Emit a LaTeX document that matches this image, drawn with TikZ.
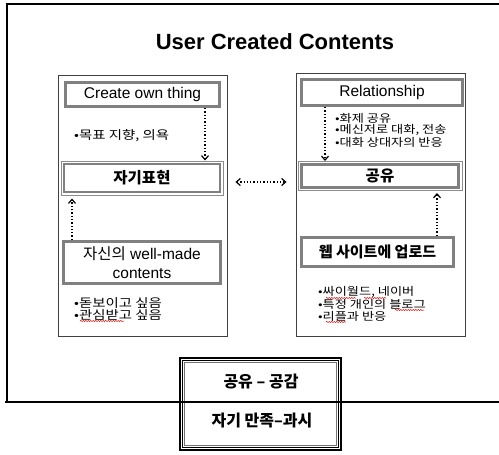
\documentclass[tikz,border=0pt]{standalone}
\usepackage{fontspec}
\setmainfont{Liberation Sans}
\newfontfamily\kr{Noto Sans CJK KR}
\newfontfamily\krw[FakeStretch=1.2]{Noto Sans CJK KR}
\usetikzlibrary{arrows.meta,calc,decorations.pathmorphing}
\begin{document}
\begin{tikzpicture}[x=1pt,y=-1pt,
  panel/.style={draw=black!75,line width=0.9pt,fill=white,inner sep=0pt},
  gbox/.style={draw=black!50,line width=3pt,fill=white,inner sep=0pt,align=center,font=\fontsize{15.5}{18}\selectfont},
  obox/.style={draw=black!45,line width=1pt,fill=white,inner sep=0pt,align=center,font=\fontsize{15.5}{17}\selectfont\kr\bfseries},
  bul/.style={anchor=west,inner sep=0pt,align=left,font=\fontsize{11}{12}\selectfont\krw},
  arr/.style={dotted,line width=1.3pt,-{Straight Barb[length=4pt,width=7pt,line width=1.2pt]}},
  darr/.style={dotted,line width=1.3pt,{Straight Barb[length=4pt,width=7pt,line width=1.2pt]}-{Straight Barb[length=4pt,width=7pt,line width=1.2pt]}},
  squig/.style={draw=red!85!black,line width=0.5pt,decorate,decoration={snake,amplitude=0.6pt,segment length=2.5pt}},
  frame/.style={line width=2.6pt,black}
]
\useasboundingbox[fill=white] (0,0) rectangle (499,455);

% outer frame (top and left)
\draw[frame] (499,4) -- (7,4) -- (7,402);

% title
\node[font=\fontsize{22}{24}\selectfont\bfseries] (title) at (275,42) {User Created Contents};

% panels
\node[panel,minimum width=169pt,minimum height=261pt] (lp) at (142.5,205.5) {};
\node[panel,minimum width=169pt,minimum height=263pt] (rp) at (380.5,204.5) {};

% left panel boxes
\node[gbox,minimum width=154pt,minimum height=24pt] (create) at (142.5,94.5) {Create own thing};
\node[obox,minimum width=162pt,minimum height=34pt] (self) at (142,178) {자기표현};
\draw[draw=black!50,line width=2.6pt] ([shift={(3.5,3.5)}]self.north west) rectangle ([shift={(-3.5,-3.5)}]self.south east);
\node[gbox,minimum width=157pt,minimum height=42pt,font=\fontsize{15.5}{19}\selectfont] (well) at (142,262.5) {{\kr 자신의} well-made\\contents};

\node[bul,font=\fontsize{12}{12}\selectfont\krw] (b1) at (74,136) {•목표 지향, 의욕};
\node[bul,font=\fontsize{12}{12}\selectfont\krw] (b2) at (74,303) {•돋보이고 싶음};
\node[bul,font=\fontsize{12}{12}\selectfont\krw] (b3) at (74,315) {•관심받고 싶음};

% right panel boxes
\node[gbox,minimum width=161pt,minimum height=26pt] (rel) at (382,92.5) {Relationship};
\node[obox,minimum width=164pt,minimum height=29pt] (share) at (380,176) {공유};
\draw[draw=black!50,line width=2.6pt] ([shift={(4,3.5)}]share.north west) rectangle ([shift={(-4,-3.5)}]share.south east);
\node[gbox,minimum width=152pt,minimum height=29pt,font=\fontsize{15}{17}\selectfont\kr\bfseries] (web) at (377.5,252) {웹 사이트에 업로드};

\node[bul] (r1) at (335,118) {•화제 공유};
\node[bul] (r2) at (335,130) {•메신저로 대화, 전송};
\node[bul] (r3) at (335,142) {•대화 상대자의 반응};

\node[bul] (r4) at (318,292) {•싸이월드, 네이버};
\node[bul] (r5) at (318,304) {•특정 개인의 블로그};
\node[bul] (r6) at (318,316) {•리플과 반응};

% spell-check underlines
\draw[squig] (80,321) -- (124,321);
\draw[squig] (326,298) -- (356,298);
\draw[squig] (364,298) -- (386,298);
\draw[squig] (395,310) -- (424,310);
\draw[squig] (326,322) -- (346,322);

% arrows
\draw[arr] ([xshift=62.5pt]create.south) -- ([xshift=62.5pt]create.south |- self.north);
\draw[arr,shorten >=3pt] ([xshift=-70pt]well.north) -- ([xshift=-70pt]well.north |- self.south);
\draw[arr] ([xshift=-57pt]rel.south) -- ([xshift=-57pt]rel.south |- share.north);
\draw[arr,shorten >=2pt] ([xshift=59.5pt]web.north) -- ([xshift=59.5pt]web.north |- share.south);
\draw[darr,shorten <=8pt,shorten >=9pt] (lp.east |- 0,182) -- (rp.west |- 0,182);

% bottom box
\node[draw=black,line width=1.6pt,fill=white,minimum width=161pt,minimum height=92pt,inner sep=0pt] (bot) at (260.5,404) {};
\draw[black,line width=0.8pt] ([shift={(3,3)}]bot.north west) rectangle ([shift={(-3,-3)}]bot.south east);
\draw[black!55,line width=0.8pt] ([shift={(5.5,5.5)}]bot.north west) rectangle ([shift={(-5.5,-5.5)}]bot.south east);
\node[font=\fontsize{16}{18}\selectfont\kr\bfseries,inner sep=0pt] (t1) at (261,382) {공유 – 공감};
\node[font=\fontsize{16}{18}\selectfont\kr\bfseries,inner sep=0pt] (t2) at (262,421) {자기 만족–과시};

% bottom frame line over the box
\draw[frame] (5,402) -- (499,402);
\end{tikzpicture}
\end{document}
